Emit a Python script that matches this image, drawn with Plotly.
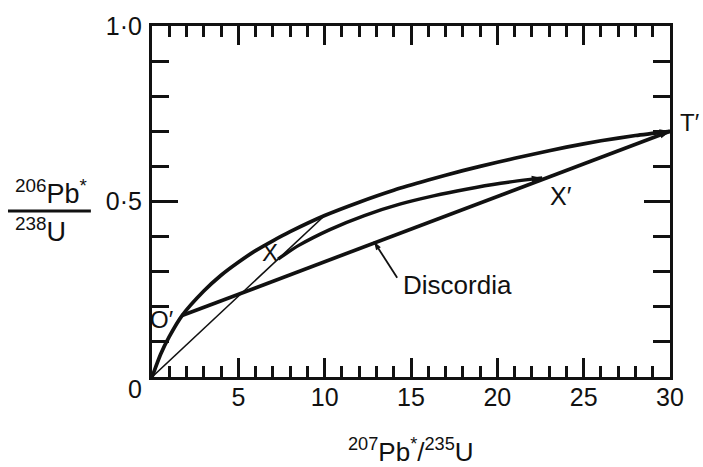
import plotly.graph_objects as go

# Concordia curve (207Pb*/235U, 206Pb*/238U)
conc_x = [0, 0.5, 1, 1.74, 3, 4, 5, 6, 7, 8, 10, 12, 14, 16, 18, 20, 22, 24, 26, 28, 30]
conc_y = [0, 0.065, 0.115, 0.175, 0.245, 0.29, 0.327, 0.36, 0.388, 0.414, 0.46, 0.498,
          0.532, 0.561, 0.588, 0.612, 0.634, 0.655, 0.673, 0.688, 0.70]

# Secondary curve X -> X'
mid_x = [7.3, 8.5, 10.3, 12.3, 14.4, 16.3, 18.2, 20.2, 21.9, 22.6]
mid_y = [0.336, 0.375, 0.42, 0.46, 0.493, 0.516, 0.535, 0.552, 0.563, 0.567]

# Discordia O' -> T'
disc_x = [1.74, 30]
disc_y = [0.175, 0.70]

# Thin chord from origin to concordia
chord_x = [0, 10]
chord_y = [0, 0.46]

# Pointer from the "Discordia" label to the line
pointer_x = [14.2, 12.85]
pointer_y = [0.283, 0.386]

x_tickvals = [5, 10, 15, 20, 25, 30]
x_ticktext = ["5", "10", "15", "20", "25", "30"]
y_tickvals = [0.5, 1.0]
y_ticktext = ["0·5", "1·0"]

FONT = "Liberation Sans"
INK = "#111111"

fig = go.Figure()
fig.add_trace(go.Scatter(x=conc_x, y=conc_y, mode="lines",
                         line=dict(color=INK, width=3.7, shape="spline", smoothing=0.6)))
fig.add_trace(go.Scatter(x=mid_x, y=mid_y, mode="lines",
                         line=dict(color=INK, width=3.4, shape="spline", smoothing=0.6)))
fig.add_trace(go.Scatter(x=disc_x, y=disc_y, mode="lines",
                         line=dict(color=INK, width=3.7)))
fig.add_trace(go.Scatter(x=chord_x, y=chord_y, mode="lines",
                         line=dict(color=INK, width=1.6)))
fig.add_trace(go.Scatter(x=pointer_x, y=pointer_y, mode="lines",
                         line=dict(color=INK, width=1.8)))

# arrowheads at the ends of the curves
for xs, ys, sz in [(conc_x, conc_y, 11), (mid_x, mid_y, 11), (disc_x, disc_y, 11),
                   (pointer_x, pointer_y, 9)]:
    fig.add_trace(go.Scatter(x=xs[-2:], y=ys[-2:], mode="markers",
                             marker=dict(symbol="arrow", angleref="previous",
                                         size=[1, sz], opacity=[0, 1], color=INK,
                                         line=dict(width=0))))

ann = []
ann.append(dict(x=14.4, y=0.262, xref="x", yref="y", text="Discordia", showarrow=False,
                xanchor="left", yanchor="middle", font=dict(family=FONT, size=26, color=INK)))

# point labels
ann.append(dict(x=0.6, y=0.165, xref="x", yref="y", text="O′", showarrow=False,
                font=dict(family=FONT, size=24, color=INK)))
ann.append(dict(x=6.85, y=0.355, xref="x", yref="y", text="X", showarrow=False,
                font=dict(family=FONT, size=24, color=INK)))
ann.append(dict(x=23.7, y=0.515, xref="x", yref="y", text="X′", showarrow=False,
                font=dict(family=FONT, size=25, color=INK)))
ann.append(dict(x=1.016, y=0.725, xref="paper", yref="y", text="T′", showarrow=False,
                xanchor="left", font=dict(family=FONT, size=24, color=INK)))

# common zero label
ann.append(dict(x=-0.05, y=0.012, xref="paper", yref="paper", text="0", showarrow=False,
                yanchor="top", font=dict(family=FONT, size=25, color=INK)))

# y-axis title as fraction
ann.append(dict(x=-0.268, y=0.527, xref="paper", yref="paper", xanchor="left",
                text="<sup>206</sup>Pb<sup>*</sup>", showarrow=False,
                font=dict(family=FONT, size=27, color=INK)))
ann.append(dict(x=-0.268, y=0.42, xref="paper", yref="paper", xanchor="left",
                text="<sup>238</sup>U", showarrow=False,
                font=dict(family=FONT, size=27, color=INK)))
# x-axis title
ann.append(dict(x=0.50, y=-0.262, xref="paper", yref="paper",
                text="<sup>207</sup>Pb<sup>*</sup>/<sup>235</sup>U", showarrow=False,
                font=dict(family=FONT, size=26, color=INK)))

fig.update_layout(
    width=703, height=467,
    margin=dict(l=152, r=33, t=24, b=90),
    paper_bgcolor="white", plot_bgcolor="white",
    showlegend=False,
    annotations=ann,
    shapes=[dict(type="line", xref="paper", yref="paper",
                 x0=-0.278, x1=-0.118, y0=0.473, y1=0.473,
                 line=dict(color=INK, width=3))],
    xaxis=dict(range=[0, 30], tickmode="array", tickvals=x_tickvals, ticktext=x_ticktext,
               ticks="inside", ticklen=19, tickwidth=2.5, tickcolor=INK,
               minor=dict(tickmode="linear", tick0=0, dtick=1, ticks="inside",
                          ticklen=11, tickwidth=2.5, tickcolor=INK),
               showline=True, linewidth=3, linecolor=INK, mirror="allticks",
               showgrid=False, zeroline=False,
               tickfont=dict(family=FONT, size=25, color=INK), ticklabelstandoff=-4),
    yaxis=dict(range=[0, 1.0], tickmode="array", tickvals=y_tickvals, ticktext=y_ticktext,
               ticks="inside", ticklen=26, tickwidth=2.5, tickcolor=INK,
               minor=dict(tickmode="linear", tick0=0, dtick=0.1, ticks="inside",
                          ticklen=17, tickwidth=2.5, tickcolor=INK),
               showline=True, linewidth=3, linecolor=INK, mirror="allticks",
               showgrid=False, zeroline=False,
               tickfont=dict(family=FONT, size=25, color=INK), ticklabelstandoff=2),
)

fig.write_html("out.html")
